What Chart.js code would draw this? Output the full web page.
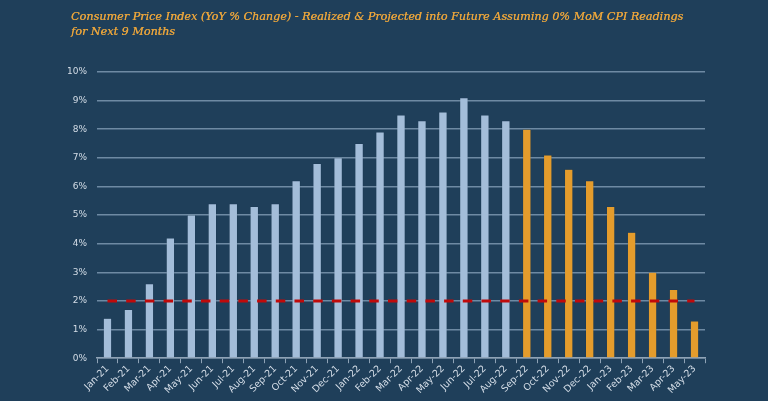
<!DOCTYPE html>
<html>
<head>
<meta charset="utf-8">
<script src="https://cdn.jsdelivr.net/npm/chart.js@4.4.0/dist/chart.umd.min.js"></script>
<style>
  html, body { margin: 0; padding: 0; background: #1f3f5a; }
  #wrap { width: 768px; height: 401px; }
</style>
</head>
<body>
<div id="wrap"><canvas id="cpiChart"></canvas></div>
<script>
const months = ['Jan-21', 'Feb-21', 'Mar-21', 'Apr-21', 'May-21', 'Jun-21', 'Jul-21', 'Aug-21', 'Sep-21',
  'Oct-21', 'Nov-21', 'Dec-21', 'Jan-22', 'Feb-22', 'Mar-22', 'Apr-22', 'May-22', 'Jun-22', 'Jul-22',
  'Aug-22', 'Sep-22', 'Oct-22', 'Nov-22', 'Dec-22', 'Jan-23', 'Feb-23', 'Mar-23', 'Apr-23', 'May-23'];

// YoY % change, realized through Aug-22, projected after
const cpiYoY = [1.4, 1.7, 2.6, 4.2, 5.0, 5.4, 5.4, 5.3, 5.4,
  6.2, 6.8, 7.0, 7.5, 7.9, 8.5, 8.3, 8.6, 9.1, 8.5,
  8.3, 8.0, 7.1, 6.6, 6.2, 5.3, 4.4, 3.0, 2.4, 1.3];

const firstProjected = 'Sep-22';

const targetLine = [2, 2, 2, 2, 2, 2, 2, 2, 2, 2, 2, 2, 2, 2, 2, 2, 2, 2, 2, 2, 2, 2, 2, 2, 2, 2, 2, 2, 2];

const yTicks = [0, 1, 2, 3, 4, 5, 6, 7, 8, 9, 10];

const titleLines = ['Consumer Price Index (YoY % Change) - Realized & Projected into Future Assuming 0% MoM CPI Readings',
  'for Next 9 Months'];

const splitAt = months.indexOf(firstProjected);
const barColors = months.map((m, i) => i < splitAt ? '#a3bdd9' : '#e49c2c');

// title drawn by hand so it can sit left of the plot area
const titlePlugin = {
  id: 'leftTitle',
  afterDraw(chart) {
    const c = chart.ctx;
    c.save();
    c.fillStyle = '#e8a43c';
    c.font = 'italic 11.2px "DejaVu Serif"';
    c.textBaseline = 'alphabetic';
    titleLines.forEach((t, i) => {
      c.fillText(t, 71, 19.5 + i * 15.5);
      c.fillText(t, 71.3, 19.5 + i * 15.5); // a touch heavier
    });
    c.restore();
  }
};

const ctx = document.getElementById('cpiChart').getContext('2d');

const cpiChart = new Chart(ctx, {
  type: 'bar',
  data: {
    labels: months,
    datasets: [{
      type: 'line',
      data: targetLine,
      borderColor: '#c00a0a',
      borderWidth: 3,
      borderDash: [9.5, 9.2],
      pointRadius: 0,
      fill: false,
      order: 0
    }, {
      data: cpiYoY,
      backgroundColor: barColors,
      borderColor: 'rgba(20, 40, 60, 0.35)',
      borderWidth: 0.5,
      barPercentage: 0.4,
      categoryPercentage: 1,
      order: 1
    }]
  },
  plugins: [titlePlugin],
  options: {
    responsive: true,
    maintainAspectRatio: false,
    animation: false,
    layout: { padding: { left: 60, right: 63, top: 72, bottom: 5 } },
    plugins: {
      legend: { display: false },
      tooltip: { enabled: false },
      title: { display: false }
    },
    scales: {
      x: {
        grid: { display: true, drawOnChartArea: false, offset: true, color: '#8fa3b6', tickLength: 5 },
        border: { color: '#8fa3b6', width: 1.5 },
        ticks: {
          color: '#d4dde7',
          font: { family: 'DejaVu Sans', size: 9.5 },
          maxRotation: 45,
          minRotation: 45,
          autoSkip: false,
          padding: 0
        }
      },
      y: {
        min: 0,
        max: 10,
        afterBuildTicks: axis => { axis.ticks = yTicks.map(v => ({ value: v })); },
        afterFit: axis => { axis.width = 37; },
        grid: { color: '#6e8aa3', lineWidth: 1.5, drawTicks: false },
        border: { display: false },
        ticks: {
          color: '#d4dde7',
          font: { family: 'DejaVu Sans', size: 9 },
          padding: 10,
          callback: v => v + '%'
        }
      }
    }
  }
});
</script>
</body>
</html>
